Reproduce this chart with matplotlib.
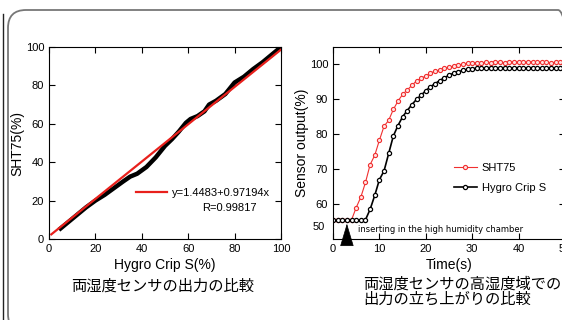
import matplotlib
import matplotlib.pyplot as plt
from matplotlib.patches import FancyBboxPatch
from matplotlib.lines import Line2D

matplotlib.use("Agg")

plt.rcParams['font.family'] = ['Liberation Sans', 'Noto Sans CJK JP', 'DejaVu Sans']

# left panel: SHT75 vs Hygro Crip S
hygro = [5, 8, 12, 16, 20, 24, 28, 32, 35, 38, 42, 46, 50, 53, 56, 59, 61, 64, 67, 69, 72, 76, 80, 84, 88, 92, 96, 100]
sht = [5.5, 8.5, 12.5, 16.5, 20, 23, 26.5, 30, 32.5, 34, 37.5, 42.5, 48.5, 52, 56, 60.5, 62.5, 64, 66.5, 70, 72, 75.5, 81.5, 84.5, 88.5, 92, 96, 100]
fit_a, fit_b = 1.4483, 0.97194
fit_x = [1, 100]

# right panel: response after insertion
time_s = list(range(0, 51))
sht75_out = [55.5, 55.5, 55.5, 55.5, 55.5, 59, 62, 66.2, 71.3, 74, 78.3, 82.3, 84, 87.1, 89.5, 91.4,
             92.7, 94, 95.3, 96, 96.7, 97.5, 98.1, 98.4, 98.9, 99.2, 99.5, 99.8, 100.1, 100.3, 100.4,
             100.5, 100.5, 100.6, 100.5, 100.6, 100.6, 100.5, 100.6, 100.6, 100.7, 100.6, 100.6, 100.7,
             100.6, 100.6, 100.6, 100.5, 100.6, 100.6, 100.6]
hygro_out = [55.3, 55.3, 55.3, 55.3, 55.3, 55.3, 55.3, 55.5, 58.5, 62.5, 67, 69.5, 74.5, 79.5, 82.5, 85,
             86.8, 88.5, 90, 91.2, 92.5, 93.6, 94.5, 95.4, 96.2, 96.9, 97.5, 97.9, 98.3, 98.6, 98.8,
             98.9, 99.0, 99.0, 99.1, 99.0, 99.0, 99.1, 99.0, 99.0, 99.1, 99.0, 99.0, 99.1, 99.0, 99.0,
             99.0, 99.1, 99.0, 99.0, 99.0]

W, H = 562, 320
fig = plt.figure(figsize=(W / 100, H / 100), dpi=100)

def px_axes(l, t, r, b):
    return fig.add_axes([l / W, 1 - b / H, (r - l) / W, (b - t) / H])

# rounded frame
frame = FancyBboxPatch((0.08, -0.12), 5.68, 3.22, boxstyle="round,pad=0,rounding_size=0.18",
                       transform=fig.dpi_scale_trans, fill=False, ec="#777777", lw=1.3)
fig.patches.append(frame)
fig.add_artist(Line2D([0.025, 0.025], [0.0, 3.06], transform=fig.dpi_scale_trans, color="#222222", lw=1.0))

tick_kw = dict(direction="in", top=True, right=True, length=4, width=0.8, labelsize=8)

ax1 = px_axes(49, 47, 281, 239)
ax1.plot(hygro, sht, color="black", lw=3.2, solid_joinstyle="round")
fit_y = [fit_a + fit_b * x for x in fit_x]
ax1.plot(fit_x, fit_y, color="#e8201c", lw=1.6, label="y=1.4483+0.97194x")
ax1.set_xlim(0, 100)
ax1.set_ylim(0, 100)
ax1.set_xticks(range(0, 101, 20))
ax1.set_yticks(range(0, 101, 20))
ax1.tick_params(**tick_kw)
ax1.set_xlabel("Hygro Crip S(%)", fontsize=10)
ax1.xaxis.set_label_coords(0.5, -0.10)
ax1.set_ylabel("SHT75(%)", fontsize=10)
ax1.yaxis.set_label_coords(-0.105, 0.5)
ax1.legend(loc="center left", bbox_to_anchor=(0.375, 0.24), frameon=False, fontsize=8,
           borderpad=0, borderaxespad=0, handlelength=2.8, handletextpad=0.45)
ax1.text(0.897, 0.161, "R=0.99817", transform=ax1.transAxes, ha="right", va="center", fontsize=8)

ax2 = px_axes(333, 47, 565, 239)
ax2.plot(time_s, sht75_out, color="#f03030", lw=0.8, marker="o", ms=3, mfc="#ffe0e0", mew=0.8, label="SHT75")
ax2.plot(time_s, hygro_out, color="black", lw=1.2, marker="o", ms=3, mfc="white", mew=0.9, label="Hygro Crip S")
ax2.set_xlim(0, 50)
ax2.set_ylim(50, 105)
ax2.set_xticks(range(0, 51, 10))
ax2.set_yticks(range(60, 101, 10))
ax2.tick_params(**tick_kw)
ax2.text(-0.035, 53.4, "50", transform=ax2.get_yaxis_transform(), ha="right", va="center", fontsize=8)
ax2.set_xlabel("Time(s)", fontsize=10)
ax2.xaxis.set_label_coords(0.5, -0.10)
ax2.set_ylabel("Sensor output(%)", fontsize=10)
ax2.yaxis.set_label_coords(-0.105, 0.5)
ax2.legend(loc="upper left", bbox_to_anchor=(0.52, 0.395), frameon=False, fontsize=8,
           borderpad=0, borderaxespad=0, handlelength=2.1, handletextpad=0.45, labelspacing=0.9)
ax2.annotate("", xy=(3, 55.2), xytext=(3, 50),
             arrowprops=dict(arrowstyle="-|>,head_length=1.5,head_width=0.45", color="black", lw=0.5))
ax2.text(5.3, 52.6, "inserting in the high humidity chamber", family="DejaVu Sans", fontsize=6, va="center")

fig.text(163 / W, 1 - 286 / H, "両湿度センサの出力の比較", ha="center", va="center", fontsize=11)
fig.text(363 / W, 1 - 284 / H, "両湿度センサの高湿度域での", ha="left", va="center", fontsize=11)
fig.text(363 / W, 1 - 299 / H, "出力の立ち上がりの比較", ha="left", va="center", fontsize=11)

fig.savefig("out.png", dpi=100)
